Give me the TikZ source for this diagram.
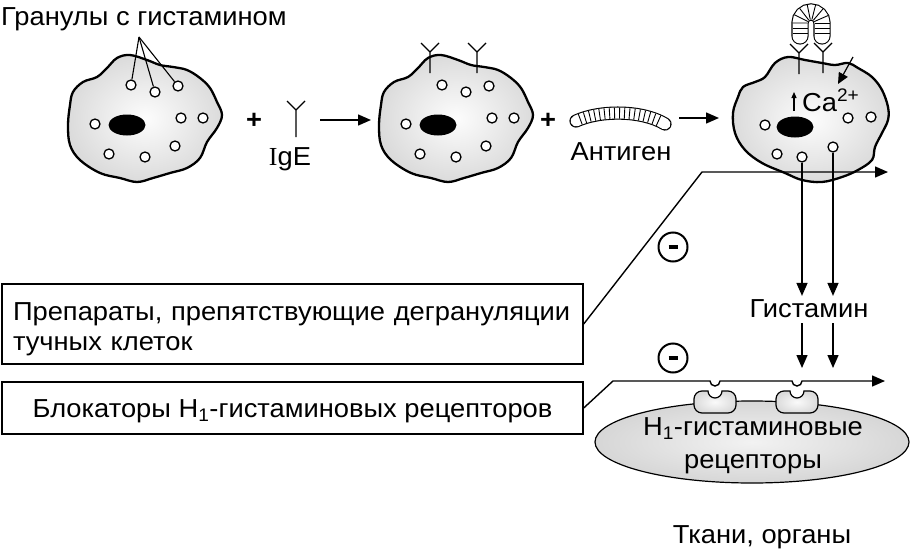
\documentclass[tikz,border=0pt]{standalone}
\usepackage{fontspec}
\setmainfont{Liberation Sans}[FakeStretch=1.05]
\newfontfamily\serifI{Liberation Serif}
\usetikzlibrary{positioning,arrows.meta,decorations.markings,shapes.geometric}

\tikzset{
  txt/.style={font=\fontsize{26}{30}\selectfont, inner sep=0pt},
  cell/.style={draw, line width=2.3pt, inner color=gray!2, outer color=gray!28},
  granule/.style={circle, draw, line width=1.3pt, fill=white, minimum size=10pt, inner sep=0pt},
  nucleus/.style={ellipse, fill=black, minimum width=37pt, minimum height=21pt, inner sep=0pt},
  flow/.style={line width=1.4pt, -{Triangle[length=13pt,width=11pt]}},
  ab/.style={line width=1.1pt},
  antigen/.style={line width=1.1pt, double=white, double distance=11pt, line cap=round},
  stripes/.style={decorate, decoration={markings,
      mark=between positions 0.05 and 0.96 step 5pt with {\draw[line width=0.9pt] (0,-#1) -- (0,#1);}}},
  stripes/.default=5.5pt,
  drugbox/.style={draw, line width=1.4pt, txt, minimum width=581pt},
  minus/.style={circle, draw, line width=2pt, minimum size=29pt, inner sep=0pt},
  tissue/.style={ellipse, draw, line width=1.2pt, inner color=gray!10, outer color=gray!32,
      minimum width=314pt, minimum height=82pt},
  recep/.style={draw, line width=1.2pt, inner color=gray!4, outer color=gray!28},
  pics/ige/.style={code={\draw[ab] (0,0) -- (0,#1) (-9,-9) -- (0,0) -- (9,-9);}},
  pics/ige/.default=21,
  pics/mastcell/.style={code={
    \draw[cell] plot[smooth cycle, tension=0.6] coordinates {(73,92) (83,82) (97,77) (107,68)
      (117,58) (130,55) (147,60) (160,65) (173,67) (187,70) (200,78) (210,88) (217,102) (222,115)
      (217,128) (207,142) (200,158) (187,168) (170,173) (153,178) (137,182) (120,178) (100,173)
      (80,160) (70,145) (68,125) (70,105)};
    \node[nucleus] (-nuc) at (127,125) {};
    \foreach \gx/\gy [count=\i] in {131/85,155/92,178/86,95/124,181/118,203/118,109/154,145/157,175/146}
      \node[granule] (-g\i) at (\gx,\gy) {};
  }},
  pics/h1rec/.style={code={
    \draw[recep] (-7,0) arc[start angle=180,end angle=360,radius=7pt] -- (13,0)
      arc[start angle=90,end angle=0,radius=8pt] -- (21,14)
      arc[start angle=0,end angle=-90,radius=8pt] -- (-13,22)
      arc[start angle=270,end angle=180,radius=8pt] -- (-21,8)
      arc[start angle=180,end angle=90,radius=8pt] -- cycle;
  }},
}

\begin{document}
\begin{tikzpicture}[x=1pt,y=-1pt]
  \useasboundingbox (0,0) rectangle (911,557);

  % mast cell with granules, then with IgE
  \pic (c1) at (0,0) {mastcell};
  \node[txt, anchor=base west] (glabel) at (1,25) {Гранулы с гистамином};
  \coordinate (gtip) at (139,37);
  \foreach \g in {1,2,3}
    \draw[ab] (gtip) -- (c1-g\g);

  \node[txt, font=\fontsize{26}{30}\selectfont\bfseries] (plus1) at (254,121) {+};
  \pic at (296,110) {ige=27};
  \node[txt, anchor=base] (igel) at (290,165) {{\serifI I}gE};
  \coordinate (a1s) at (320,120);
  \coordinate (a1e) at (371,120);
  \draw[flow] (a1s) -- (a1e);

  \pic (c2) at (311,0) {mastcell};
  \pic at (430,52) {ige};
  \pic at (477,52) {ige};

  \node[txt, font=\fontsize{26}{30}\selectfont\bfseries] (plus2) at (548,121) {+};
  \draw[antigen] (576,121) .. controls (600,110) and (642,110) .. (665,124);
  \path[stripes] (576,121) .. controls (600,110) and (642,110) .. (665,124);
  \node[txt, anchor=base] (agl) at (621,160) {Антиген};
  \coordinate (a2s) at (679,118);
  \coordinate (a2e) at (719,118);
  \draw[flow] (a2s) -- (a2e);

  % activated cell
  \draw[cell] plot[smooth cycle, tension=0.6] coordinates {(738,97) (743,87) (755,82) (765,77)
    (775,63) (788,57) (805,60) (822,63) (835,65) (848,63) (858,68) (872,77) (882,90) (888,107)
    (888,120) (882,133) (875,147) (872,160) (858,170) (842,177) (822,182) (802,180) (785,173)
    (762,163) (745,150) (735,133) (733,113)};
  \node[nucleus] (c3-nuc) at (795,127) {};
  \foreach \gx/\gy [count=\i] in {765/125,848/118,871/117,777/154,802/157,833/147}
    \node[granule] (c3-g\i) at (\gx,\gy) {};
  \pic at (799,53) {ige};
  \pic at (823,52) {ige};
  \draw[antigen, double distance=15pt] (800,36) -- (800,23) arc[start angle=180,end angle=0,radius=11pt] -- (822,36);
  \path[stripes=7.5pt] (800,36) -- (800,23) arc[start angle=180,end angle=0,radius=11pt] -- (822,36);
  \node[txt, anchor=base west] (ca) at (802,111) {Ca\textsuperscript{2+}};
  \coordinate (up1) at (794,111);
  \coordinate (up2) at (794,92);
  \draw[line width=1.2pt, -{Triangle[length=6pt,width=5pt]}] (up1) -- (up2);
  \coordinate (cas) at (853,57);
  \coordinate (cae) at (838,84);
  \draw[line width=1.2pt, -{Triangle[length=11pt,width=10pt]}] (cas) -- (cae);

  % drugs
  \node[drugbox, minimum height=80pt, text width=559pt, align=left] (box1) at (292.5,324)
    {\rule{0pt}{28pt}Препараты, препятствующие дегрануляции\\тучных клеток};
  \node[drugbox, minimum height=52pt, align=center] (box2) at (292.5,408)
    {\rule{0pt}{25pt}Блокаторы H\textsubscript{1}-гистаминовых рецепторов};
  \node[minus] (m1) at (673,247) {\rule{9pt}{3.4pt}};
  \node[minus] (m2) at (673,358) {\rule{9pt}{3.4pt}};

  % tissues
  \node[tissue] (tissue) at (752,442) {};
  \node[txt, font=\fontsize{26}{33}\selectfont, align=center] (rtxt) at (753,442)
    {\rule{0pt}{24.5pt}H\textsubscript{1}-гистаминовые\\рецепторы};
  \pic at (715,391) {h1rec};
  \pic at (797,391) {h1rec};
  \node[txt, anchor=base] (organs) at (762,543) {Ткани, органы};

  % histamine release
  \node[txt, anchor=base] (hist) at (809,317) {Гистамин};
  \coordinate (tk) at (702,172);
  \coordinate (te) at (888,172);
  \draw[flow] (box1.east) -- (tk) -- (te);
  \coordinate (bk) at (613,381);
  \coordinate (be) at (885,381);
  \draw[flow] (box2.east) -- (bk) -- (710,381) arc[start angle=180,end angle=360,radius=5pt]
    -- (792,381) arc[start angle=180,end angle=360,radius=5pt] -- (be);
  \foreach \g in {5,6} {
    \draw[flow, shorten >=3pt] (c3-g\g) -- (c3-g\g |- hist.north);
    \draw[flow, shorten <=6pt, shorten >=13pt] (c3-g\g |- hist.south) -- (c3-g\g |- bk);
  }
\end{tikzpicture}
\end{document}
